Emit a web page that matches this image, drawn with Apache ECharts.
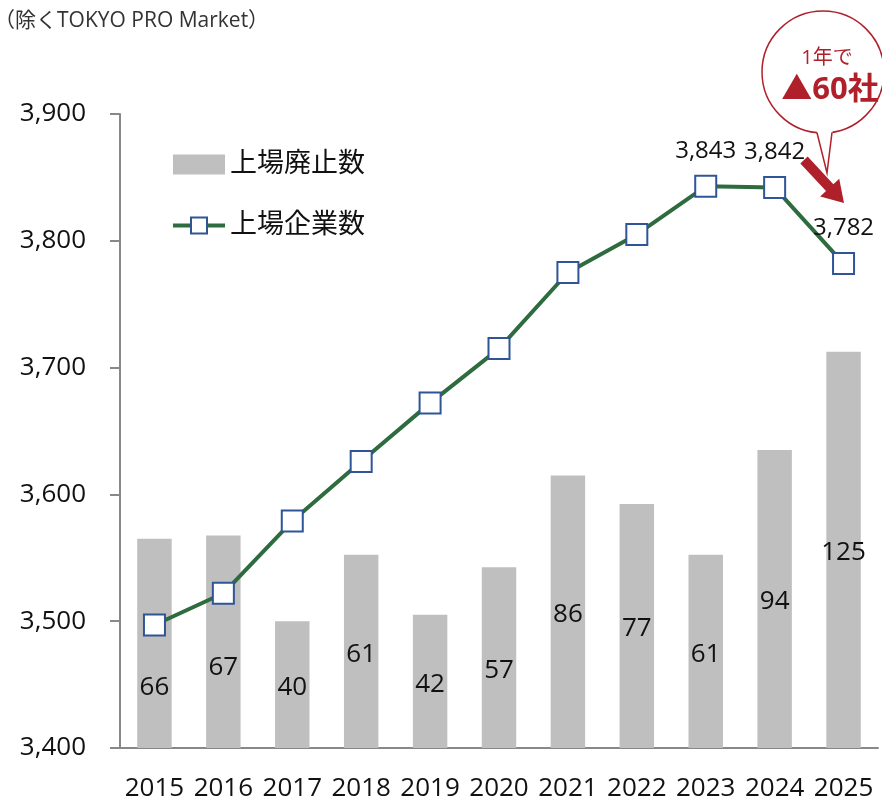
<!DOCTYPE html>
<html><head><meta charset="utf-8">
<script src="https://cdn.jsdelivr.net/npm/echarts@6/dist/echarts.min.js"></script>
<style>html,body{margin:0;padding:0;background:#fff}#c{width:882px;height:802px}</style>
</head><body><div id="c"></div>
<script>
const years = ['2015','2016','2017','2018','2019','2020','2021','2022','2023','2024','2025'];
const delisted = [66, 67, 40, 61, 42, 57, 86, 77, 61, 94, 125];
const listed = [3497, 3522, 3579, 3626, 3672, 3715, 3775, 3805, 3843, 3842, 3782];
const yTicks = [3400, 3500, 3600, 3700, 3800, 3900];
const labeledYears = ['2023', '2024', '2025'];

const FONT = '"Open Sans","Noto Sans CJK JP",sans-serif';
const RED = '#B0202A';
// label vertical nudges (px) to avoid overlap with line
const barLabelNudge = {0: 41, 1: 23, 5: 10};

const chart = echarts.init(document.getElementById('c'));

const barData = delisted.map((v, i) => ({
  value: v,
  label: {offset: [0, 3 + (barLabelNudge[i] || 0)]}
}));
const lineData = listed.map((v, i) => ({
  value: v,
  label: {show: labeledYears.includes(years[i])}
}));

function arrowPts(x0, y0, x1, y1, shaftW, headW, headL) {
  const dx = x1 - x0, dy = y1 - y0, L = Math.hypot(dx, dy);
  const ux = dx / L, uy = dy / L, px = -uy, py = ux;
  const bx = x1 - ux * headL, by = y1 - uy * headL;
  return [
    [x0 + px * shaftW / 2, y0 + py * shaftW / 2],
    [bx + px * shaftW / 2, by + py * shaftW / 2],
    [bx + px * headW / 2, by + py * headW / 2],
    [x1, y1],
    [bx - px * headW / 2, by - py * headW / 2],
    [bx - px * shaftW / 2, by - py * shaftW / 2],
    [x0 - px * shaftW / 2, y0 - py * shaftW / 2]
  ];
}

chart.setOption({
  animation: false,
  textStyle: {fontFamily: FONT},
  grid: {left: 120, right: 4, top: 114, bottom: 54},
  legend: {
    left: 166, top: 146, orient: 'vertical', itemGap: 34,
    itemWidth: 52, itemHeight: 20,
    textStyle: {fontSize: 27, color: '#111', fontFamily: FONT},
    data: [{name: '上場廃止数', icon: 'rect'}, {name: '上場企業数', lineStyle: {width: 4}}]
  },
  xAxis: {
    type: 'category', data: years,
    axisLine: {lineStyle: {color: '#888', width: 2}},
    axisTick: {show: false},
    axisLabel: {fontSize: 26, color: '#111', margin: 28, interval: 0}
  },
  yAxis: [{
    type: 'value', min: 3400, max: 3900, interval: 100,
    axisLine: {show: true, lineStyle: {color: '#888', width: 2}},
    axisTick: {show: true, length: 10, lineStyle: {color: '#888', width: 2}},
    splitLine: {show: false},
    axisLabel: {fontSize: 26, color: '#111', margin: 34,
      formatter: v => yTicks.includes(v) ? v.toLocaleString('en-US') : ''}
  }, {
    type: 'value', min: 0, max: 200, show: false, splitLine: {show: false}
  }],
  series: [{
    name: '上場廃止数', type: 'bar', yAxisIndex: 1, data: barData,
    barWidth: '50%', itemStyle: {color: '#BFBFBF'},
    label: {show: true, position: 'inside', fontSize: 26, color: '#111'}
  }, {
    name: '上場企業数', type: 'line', yAxisIndex: 0, data: lineData, z: 5,
    lineStyle: {color: '#2E6B3F', width: 4},
    itemStyle: {color: '#fff', borderColor: '#2F5597', borderWidth: 2},
    symbol: 'rect', symbolSize: 21,
    label: {position: 'top', distance: 12, fontSize: 24, color: '#111',
      formatter: p => p.value.toLocaleString('en-US')}
  }],
  graphic: [
    {type: 'text', left: -6, top: 11,
      style: {text: '（除くTOKYO PRO Market）', fontSize: 21, fill: '#333', fontFamily: FONT}},
    {type: 'circle', shape: {cx: 823, cy: 72, r: 61},
      style: {fill: '#fff', stroke: RED, lineWidth: 1.5}},
    {type: 'polygon', shape: {points: [[816, 128], [833, 128], [827, 173]]},
      style: {fill: '#fff'}},
    {type: 'polyline', shape: {points: [[817, 132.7], [827, 173], [832, 132.3]]},
      style: {fill: null, stroke: RED, lineWidth: 1.5}},
    {type: 'text', x: 827, y: 58,
      style: {text: '1年で', fontSize: 20, fill: RED, align: 'center', verticalAlign: 'middle', fontFamily: FONT}},
    {type: 'text', x: 830, y: 90,
      style: {text: '▲60社', fontSize: 31, fontWeight: 'bold', fill: RED, align: 'center', verticalAlign: 'middle', fontFamily: FONT}},
    {type: 'polygon', shape: {points: arrowPts(804, 160, 844, 203, 10, 26, 21)},
      style: {fill: RED}}
  ]
});
</script></body></html>
